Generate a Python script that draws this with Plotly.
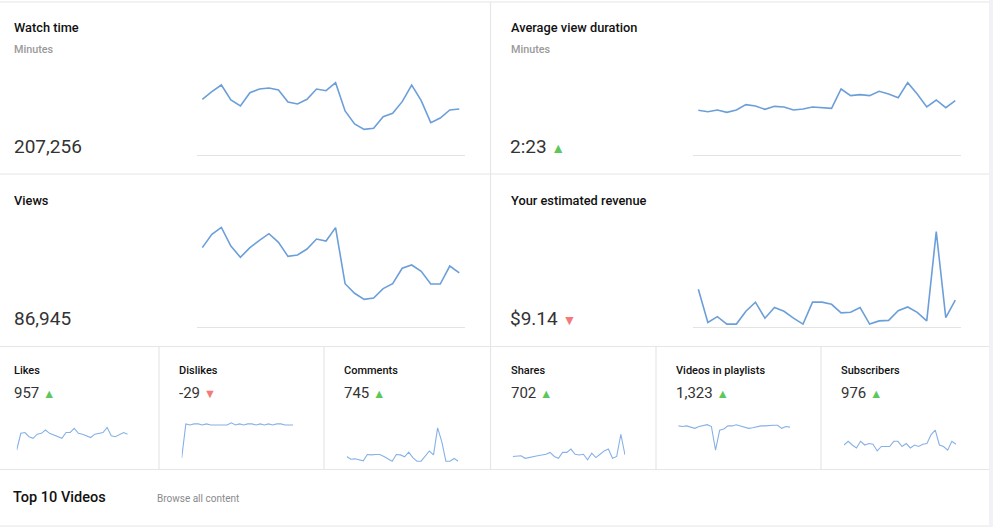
import plotly.graph_objects as go

W, H = 993, 527
days = list(range(1, 29))

# ---- data ----
watch_time_min = [8350, 9500, 10500, 8250, 7350, 9350, 9900, 10050, 9750, 7950, 7650, 8350, 9900, 9650,
                  10850, 6600, 4650, 3850, 4000, 5750, 6250, 8000, 10500, 8150, 4850, 5550, 6750, 6900]
avg_view_sec = [134, 130, 135, 128, 135, 151, 147, 137, 146, 144, 135, 138, 144, 143,
                140, 198, 178, 181, 178, 191, 183, 172, 217, 183, 144, 165, 142, 163]
views = [3745, 4370, 4700, 3820, 3290, 3745, 4090, 4400, 3995, 3335, 3400, 3680, 4150, 4055,
         4685, 2050, 1600, 1315, 1380, 1820, 2050, 2775, 2930, 2630, 2035, 2035, 2880, 2555]
revenue = [0.71, 0.09, 0.20, 0.06, 0.06, 0.30, 0.47, 0.17, 0.37, 0.30, 0.17, 0.06, 0.47, 0.47,
           0.43, 0.27, 0.28, 0.37, 0.06, 0.12, 0.13, 0.31, 0.38, 0.28, 0.12, 1.79, 0.18, 0.51]
likes = [18, 38, 39, 34, 32, 37, 38, 42, 38, 36, 34, 32, 39, 39,
         44, 38, 37, 35, 33, 37, 38, 39, 45, 35, 34, 37, 39, 37]
dislikes = [-30, 1, 0, 1, 1, 0, 1, 0, 0, 0, 0, 0, 2, 0,
            1, 0, 1, 1, 0, 1, 0, 1, 0, 1, 1, 0, 0, 0]
comments = [26, 19, 20, 17, 15, 31, 30, 31, 31, 26, 20, 14, 31, 30,
            25, 37, 23, 14, 14, 27, 40, 30, 99, 64, 14, 14, 21, 14]
shares = [23, 23, 25, 18, 21, 23, 25, 27, 29, 34, 23, 18, 34, 34,
          43, 29, 27, 29, 14, 32, 20, 29, 38, 43, 18, 23, 83, 27]
playlists = [48, 47, 48, 46, 44, 47, 48, 50, 47, 8, 41, 43, 48, 48,
             50, 48, 47, 44, 45, 47, 48, 48, 49, 49, 49, 44, 47, 46]
subscribers = [36, 41, 36, 32, 41, 36, 38, 37, 28, 34, 34, 34, 41, 41,
               34, 38, 32, 36, 34, 37, 38, 50, 56, 36, 34, 29, 41, 37]

big_titles = ["Watch time", "Average view duration", "Views", "Your estimated revenue"]
big_subtitles = ["Minutes", "Minutes", "", ""]
big_values = ["207,256", "2:23", "86,945", "$9.14"]
big_trend = [None, "up", None, "down"]

small_titles = ["Likes", "Dislikes", "Comments", "Shares", "Videos in playlists", "Subscribers"]
small_values = ["957", "-29", "745", "702", "1,323", "976"]
small_trend = ["up", "down", "up", "up", "up", "up"]

# ---- layout helpers ----
def px(x):
    return x / W

def py(y):
    return 1 - y / H

FONT = "Roboto, Arial, sans-serif"
BLUE = "#6c9fd9"
BLUE_LIGHT = "#86b1e6"
GREEN = "#5cc85a"
RED = "#f47a7a"
LINE = "#e6e6e6"

fig = go.Figure()
layout = dict(width=W, height=H, margin=dict(l=0, r=0, t=0, b=0),
              paper_bgcolor="white", plot_bgcolor="rgba(0,0,0,0)",
              showlegend=False, font=dict(family=FONT))

# chart boxes: (series, x-px domain, y-px domain, y range, x range, big?)
charts = [
    (watch_time_min, (197, 465), (60, 155), (0, 14250), (0.44, 28.6), True),
    (avg_view_sec, (693, 961), (60, 155), (0, 285), (0.44, 28.6), True),
    (views, (197, 465), (200, 327.3), (0, 5985), (0.44, 28.6), True),
    (revenue, (693, 961), (200, 327.3), (0, 2.381), (0.44, 28.6), True),
    (likes, (16.7, 127.7), (400, 466), (-1.2, 78), (1, 28), False),
    (dislikes, (181.7, 293.3), (400, 466), (-37.27, 22.73), (1, 28), False),
    (comments, (346.7, 458.3), (400, 466), (1.71, 170.1), (1, 28), False),
    (shares, (512.7, 625), (400, 466), (-2.7, 175.5), (1, 28), False),
    (playlists, (678.3, 790), (400, 466), (-18.15, 90.75), (1, 28), False),
    (subscribers, (844, 956), (400, 466), (7.65, 96.75), (1, 28), False),
]

for i, (series, xd, yd, yr, xr, big) in enumerate(charts):
    n = "" if i == 0 else str(i + 1)
    fig.add_trace(go.Scatter(x=days, y=series, mode="lines",
                             line=dict(color=BLUE if big else BLUE_LIGHT, width=1.6 if big else 1.1),
                             xaxis="x" + n, yaxis="y" + n, hoverinfo="skip"))
    layout["xaxis" + n] = dict(domain=[px(xd[0]), px(xd[1])], range=list(xr),
                               showgrid=False, zeroline=False, showticklabels=False, ticks="",
                               showline=big, linecolor="#e3e3e3", linewidth=1,
                               anchor="y" + n, fixedrange=True)
    layout["yaxis" + n] = dict(domain=[py(yd[1]), py(yd[0])], range=list(yr),
                               showgrid=False, zeroline=False, showticklabels=False, ticks="",
                               showline=False, anchor="x" + n, fixedrange=True)

def tri(trend, size):
    if trend == "up":
        return f' <span style="color:{GREEN};font-size:{size}px">▲</span>'
    if trend == "down":
        return f' <span style="color:{RED};font-size:{size}px">▼</span>'
    return ""

ann = []
def text(x, y, s, size, color, weight="normal"):
    ann.append(dict(x=px(x - 2), y=py(y), xref="paper", yref="paper", xanchor="left", yanchor="middle",
                    text=s, showarrow=False, align="left",
                    font=dict(family=FONT, size=size, color=color, weight=weight)))

big_pos = [(14, 0), (510.5, 0), (14, 172.5), (510.5, 172.5)]
for (x0, y0), t, sub, v, tr in zip(big_pos, big_titles, big_subtitles, big_values, big_trend):
    text(x0, y0 + 28, t, 12.8, "#111", 500)
    if sub:
        text(x0, y0 + 49, sub, 10.8, "#9a9a9a", 500)
    text(x0 - 0.5, y0 + 146, v + tri(tr, 14), 19, "#333")

small_x = [14, 179, 344, 511, 676, 841]
for x0, t, v, tr in zip(small_x, small_titles, small_values, small_trend):
    text(x0, 370.5, t, 11, "#111", 500)
    text(x0, 393, v + tri(tr, 12.5), 15, "#333")

text(13, 497, "Top 10 Videos", 14.5, "#111", 500)
text(157, 498, "Browse all content", 10, "#8a8a8a")

shapes = []
def hline(y, x0=0, x1=989):
    shapes.append(dict(type="line", xref="paper", yref="paper", x0=px(x0), x1=px(x1), y0=py(y), y1=py(y),
                       line=dict(color=LINE, width=1.2)))

def vline(x, y0, y1):
    shapes.append(dict(type="line", xref="paper", yref="paper", x0=px(x), x1=px(x), y0=py(y0), y1=py(y1),
                       line=dict(color=LINE, width=1.2)))

for y in (2, 174, 346.5, 469.5, 526):
    hline(y)
vline(490.5, 2, 346.5)
for x in (159, 324, 490.5, 656, 821):
    vline(x, 346.5, 469.5)
shapes.append(dict(type="rect", xref="paper", yref="paper", x0=px(989), x1=1, y0=0, y1=1,
                   fillcolor="#f1f1f6", line=dict(width=0), layer="below"))

layout["annotations"] = ann
layout["shapes"] = shapes
fig.update_layout(**layout)
fig.write_html("out.html")
